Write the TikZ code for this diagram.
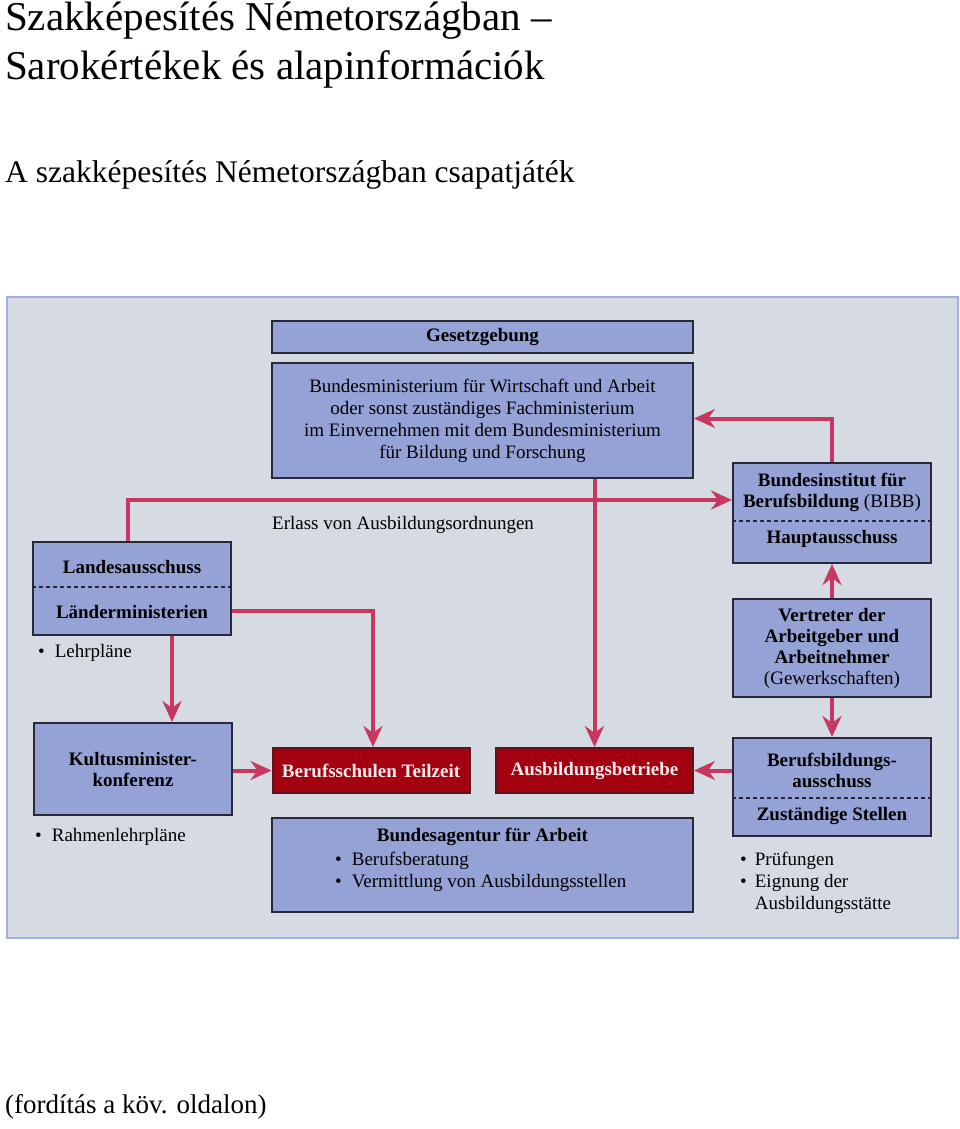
\documentclass[tikz,border=0pt]{standalone}
\usepackage{fontspec}
\setmainfont{Liberation Serif}
\usetikzlibrary{arrows.meta,calc}
\definecolor{bgpanel}{RGB}{213,218,227}
\definecolor{panelline}{RGB}{160,176,220}
\definecolor{boxfill}{RGB}{148,162,214}
\definecolor{boxline}{RGB}{40,40,56}
\definecolor{redfill}{RGB}{163,0,16}
\definecolor{redline}{RGB}{90,20,30}
\definecolor{arrowc}{RGB}{200,55,95}
\tikzset{
  bluebox/.style={draw=boxline,line width=2pt,fill=boxfill,inner sep=0pt,
    minimum width=#1,align=center,font=\fontsize{19}{21}\selectfont\bfseries},
  redbox/.style={draw=redline,line width=2pt,fill=redfill,inner sep=0pt,
    minimum width=197pt,minimum height=45pt,text={rgb,255:red,250;green,235;blue,235},
    font=\fontsize{19}{21}\selectfont\bfseries},
  lbl/.style={inner sep=0pt,align=left,font=\fontsize{19}{22}\selectfont},
  bld/.style={inner sep=0pt,align=center,font=\fontsize{19}{21}\selectfont\bfseries},
  sep/.style={dashed,line width=1.5pt,dash pattern=on 4pt off 3pt,draw=boxline},
  arr/.style={draw=arrowc,line width=4pt,-{Stealth[length=21pt,width=19pt,inset=7pt]}},
  ttl/.style={inner sep=0pt,anchor=base west}
}
\begin{document}
\begin{tikzpicture}[x=1pt,y=-1pt]
\useasboundingbox (0,0) rectangle (960,1129);
% titles
\node[ttl,font=\fontsize{41}{49}\selectfont] (t1) at (5,31) {Szakképesítés Németországban –};
\node[ttl,font=\fontsize{41}{49}\selectfont] (t2) at (5,80) {Sarokértékek és alapinformációk};
\node[ttl,font=\fontsize{31.5}{35}\selectfont] (t3) at (5,182) {A szakképesítés Németországban csapatjáték};
\node[ttl,font=\fontsize{27}{30}\selectfont] (t4) at (5,1113) {(fordítás a köv. oldalon)};
% panel
\path[fill=bgpanel,draw=panelline,line width=1.5pt] (7,297) rectangle (958,938);
% boxes
\node[bluebox=421pt,minimum height=32pt] (gesetz) at (482.5,337) {Gesetzgebung};
\node[bluebox=421pt,minimum height=115pt,font=\fontsize{19}{22}\selectfont] (bmwa) at (482.5,420.5)
  {Bundesministerium für Wirtschaft und Arbeit\\oder sonst zuständiges Fachministerium\\im Einvernehmen mit dem Bundesministerium\\für Bildung und Forschung};
\node[bluebox=198pt,minimum height=93pt] (landes) at (132,588.5) {};
\draw[sep] (landes.west |- 0,587) -- (landes.east |- 0,587);
\node[bld] (landesA) at (132,567) {Landesausschuss};
\node[bld] (landesB) at (132,612) {Länderministerien};
\node[bluebox=198pt,minimum height=100pt] (bibb) at (832,513) {};
\draw[sep] (bibb.west |- 0,521) -- (bibb.east |- 0,521);
\node[bld] (bibbA) at (832,492) {Bundesinstitut für\\Berufsbildung \mdseries(BIBB)};
\node[bld] (bibbB) at (832,539) {Hauptausschuss};
\node[bluebox=198pt,minimum height=98pt] (vertreter) at (832,648)
  {Vertreter der\\Arbeitgeber und\\Arbeitnehmer\\\mdseries(Gewerkschaften)};
\node[bluebox=198pt,minimum height=98pt] (bba) at (832,787) {};
\draw[sep] (bba.west |- 0,798) -- (bba.east |- 0,798);
\node[bld] (bbaA) at (832,770) {Berufsbildungs-\\ausschuss};
\node[bld] (bbaB) at (832,816) {Zuständige Stellen};
\node[redbox] (betriebe) at (594.5,770.5) {Ausbildungsbetriebe};
\node[redbox] (schulen) at (371,770.5) {Berufsschulen Teilzeit};
\node[bluebox=198pt,minimum height=92pt] (kmk) at (133,769) {Kultusminister-\\konferenz};
\node[bluebox=421pt,minimum height=94pt] (ba) at (482.5,865) {};
\node[bld] (baT) at (482.5,837) {Bundesagentur für Arbeit};
\node[lbl,anchor=west] (baL) at (335,872) {\textbullet\hspace{10pt}Berufsberatung\\\textbullet\hspace{10pt}Vermittlung von Ausbildungsstellen};
% free labels
\node[lbl,anchor=west] (erlass) at (272,525) {Erlass von Ausbildungsordnungen};
\node[lbl,anchor=west] (lehr) at (38,653) {\textbullet\hspace{10pt}Lehrpläne};
\node[lbl,anchor=west] (rahmen) at (35,837) {\textbullet\hspace{10pt}Rahmenlehrpläne};
\node[lbl,anchor=west] (pruef) at (740,883) {\textbullet\hspace{8pt}Prüfungen\\\textbullet\hspace{8pt}Eignung der\\\phantom{\textbullet}\hspace{8pt}Ausbildungsstätte};
% connectors
\draw[arr] ([xshift=-4pt]landes.north) |- ([yshift=13pt]bibb.west);
\draw[arr] (bmwa.south -| betriebe.north) -- (betriebe.north);
\draw[arr] (bibb.north) |- ([yshift=2pt]bmwa.east);
\draw[arr] (vertreter.north) -- (bibb.south);
\draw[arr] (vertreter.south) -- (bba.north);
\draw[arr] (bba.west |- betriebe.east) -- (betriebe.east);
\draw[arr] (kmk.east |- schulen.west) -- (schulen.west);
\draw[arr] ([yshift=-22.5pt]landes.east) -| ([xshift=2pt]schulen.north);
\draw[arr] ([xshift=40pt]landes.south) -- ([xshift=39pt]kmk.north);
\end{tikzpicture}
\end{document}
